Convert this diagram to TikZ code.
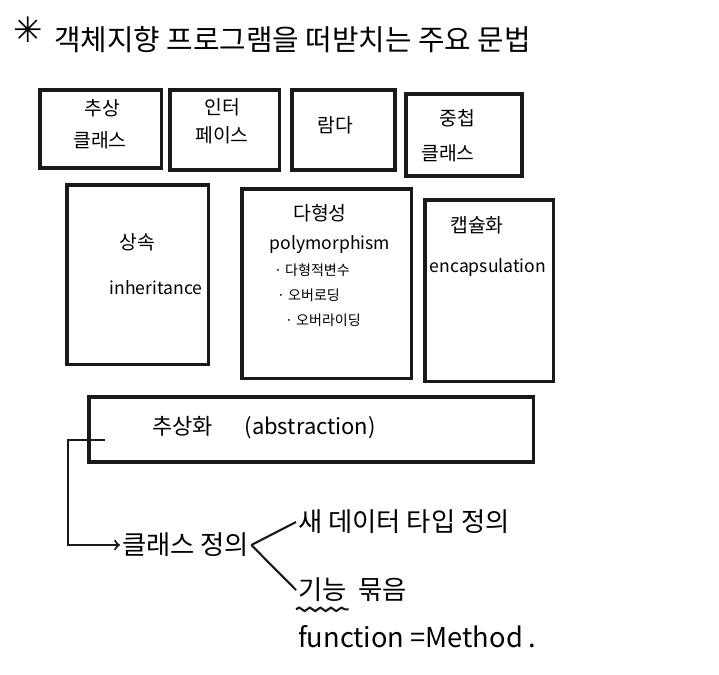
\documentclass[tikz,border=0pt]{standalone}
\usepackage{fontspec}
\setmainfont{Noto Sans CJK KR}
\newfontfamily\symfont{DejaVu Sans}
\usetikzlibrary{decorations.pathmorphing}

\begin{document}
\begin{tikzpicture}[x=0.02cm, y=-0.02cm,
  box/.style={draw=black!90, line width=2pt, rectangle, anchor=north west, inner sep=0pt},
  word/.style={font=\fontsize{11}{13}\selectfont, inner sep=1pt},
  latin/.style={font=\fontsize{10}{12}\selectfont, inner sep=1pt},
  small/.style={font=\fontsize{8}{10}\selectfont, inner sep=1pt, anchor=west},
  hand/.style={font=\fontsize{15}{18}\selectfont, inner sep=1pt, anchor=west},
  wire/.style={draw=black!90, line width=1.2pt}]

\useasboundingbox (0,0) rectangle (719,674);

% Title at the top left
\node (star) at (28,30) {\symfont\fontsize{20}{20}\selectfont ✳};
\node[anchor=west, font=\fontsize{16.4}{19}\selectfont] (title) at (48,40) {객체지향 프로그램을 떠받치는 주요 문법};

% First row: four small boxes
\node[box, minimum width=2.44cm, minimum height=1.56cm] (abscls) at (38,88) {};
\node[word] (abscls1) at (102,108) {추상};
\node[word] (abscls2) at (100,140) {클래스};

\node[box, minimum width=2.2cm, minimum height=1.6cm] (iface) at (168,88) {};
\node[word] (iface1) at (222,107) {인터};
\node[word] (iface2) at (222,135) {페이스};

\node[box, minimum width=2.06cm, minimum height=1.6cm] (lambda) at (290,88) {};
\node[word] (lambda1) at (335,125) {람다};

\node[box, minimum width=2.32cm, minimum height=1.64cm] (nested) at (404,92) {};
\node[word] (nested1) at (457,118) {중첩};
\node[word] (nested2) at (448,153) {클래스};

% Second row: three tall boxes
\node[box, minimum width=2.84cm, minimum height=3.6cm] (inherit) at (65,183) {};
\node[word] (inherit1) at (137,242) {상속};
\node[latin] (inherit2) at (156,288) {inheritance};

\node[box, minimum width=3.4cm, minimum height=3.8cm] (poly) at (240,187) {};
\node[word] (poly1) at (320,213) {다형성};
\node[latin] (poly2) at (330,245) {polymorphism};
\node[small] (poly3) at (272,270) {· 다형적변수};
\node[small] (poly4) at (275,295) {· 오버로딩};
\node[small] (poly5) at (283,320) {· 오버라이딩};

\node[box, minimum width=2.58cm, minimum height=3.64cm] (encap) at (423,198) {};
\node[word] (encap1) at (477,225) {캡슐화};
\node[latin] (encap2) at (488,268) {encapsulation};

% Wide bar: abstraction
\node[box, minimum width=8.9cm, minimum height=1.3cm] (abstr) at (87,395) {};
\node[anchor=west, font=\fontsize{12.5}{14}\selectfont] (abstr1) at (146,428) {추상화\quad\ \ (abstraction)};

% Branch from the bar down to class definition
\coordinate (stub) at (105,440);
\node[hand] (clsdef) at (120,545) {클래스 정의};
\draw[wire, ->] (stub) -- (68,440) |- (clsdef.west);

\node[hand] (newtype) at (296,522) {새 데이터 타입 정의};
\node[hand] (gineung) at (296,590) {기능};
\node[hand] (mukeum) at (356,590) {묶음};
\node[hand, font=\fontsize{15.5}{18}\selectfont] (method) at (296,637) {function =Method .};

\draw[wire] (clsdef.east) -- (newtype.west);
\draw[wire] (clsdef.east) -- (gineung.west);

% wavy underline below the first word
\draw[wire, decorate, decoration={snake, amplitude=1pt, segment length=6pt}]
  ([yshift=-3pt]gineung.south west) -- ([yshift=-3pt]gineung.south east);

\end{tikzpicture}
\end{document}
